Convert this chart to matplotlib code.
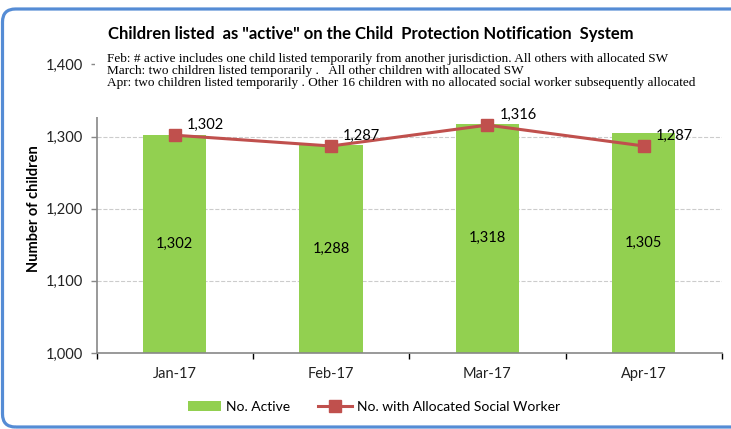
import matplotlib.pyplot as plt
import numpy as np
from matplotlib.patches import FancyBboxPatch, Patch
from matplotlib.lines import Line2D
from matplotlib.transforms import IdentityTransform

months = ["Jan-17", "Feb-17", "Mar-17", "Apr-17"]
active = [1302, 1288, 1318, 1305]
allocated = [1302, 1287, 1316, 1287]
notes = [
    "Feb: # active includes one child listed temporarily from another jurisdiction. All others with allocated SW",
    "March: two children listed temporarily .   All other children with allocated SW",
    "Apr: two children listed temporarily . Other 16 children with no allocated social worker subsequently allocated",
]

GREEN = "#92D050"
RED = "#C0504D"

plt.rcParams["font.family"] = ["Lato", "DejaVu Sans"]
W, H = 731, 429
fig = plt.figure(figsize=(W / 100, H / 100), dpi=100)

# outer rounded frame, in pixels
frame = FancyBboxPatch((2.5, 2), 800, 418, boxstyle="round,pad=0,rounding_size=13",
                       transform=IdentityTransform(), facecolor="none", edgecolor="#558CD5", lw=2.3)
fig.patches.append(frame)

ax = fig.add_axes([96.5 / W, 1 - 353 / H, 625.5 / W, (353 - 64.5) / H])
x = np.arange(len(months))
ax.bar(x, [v - 1000 for v in active], bottom=1000, width=0.405, color=GREEN, zorder=2)
ax.plot(x, allocated, color=RED, lw=2.2, marker="s", markersize=8.6, zorder=3)

for i, v in enumerate(active):
    ax.text(x[i], (1000 + v) / 2, f"{v:,}", ha="center", va="center", fontsize=10.5, zorder=5)
for i, v in enumerate(allocated):
    ax.annotate(f"{v:,}", (x[i], v), xytext=(8.6, 7.2), textcoords="offset points", ha="left", va="center",
                fontsize=10.5, zorder=5)

ax.set_xlim(-0.5, 3.5)
ax.set_ylim(1000, 1400)
ax.set_yticks(range(1000, 1401, 100))
ax.yaxis.set_major_formatter(plt.FuncFormatter(lambda v, p: f"{int(v):,}"))
ax.set_xticks(x)
ax.set_xticklabels(months)
ax.set_xticks(np.arange(-0.5, 3.6, 1), minor=True)
ax.tick_params(labelsize=10.5, colors="#222222", color="#888888")
ax.tick_params(axis="y", length=4, width=1, pad=6)
ax.tick_params(axis="x", which="major", length=0, pad=10)
ax.tick_params(axis="x", which="minor", length=4, width=1)
ax.grid(axis="y", color="#CCCCCC", linestyle="--", lw=0.8, zorder=0)
for side in ["top", "right"]:
    ax.spines[side].set_visible(False)
for side in ["left", "bottom"]:
    ax.spines[side].set_color("#888888")
    ax.spines[side].set_linewidth(1.2)
ax.set_ylabel("Number of children", fontsize=10.5, fontweight="bold", labelpad=3)

# white note box covering the top of the plot area
ax.add_patch(plt.Rectangle((95 / W, 1 - 117 / H), 630 / W, 72 / H, transform=fig.transFigure,
                           facecolor="white", edgecolor="none", zorder=3.5, clip_on=False))
for i, line in enumerate(notes):
    fig.text(107 / W, 1 - (59 + 12 * i) / H, line, fontsize=9.5, family="Liberation Serif",
             ha="left", va="center", zorder=6)

fig.text(371 / W, 1 - 39.5 / H, 'Children listed  as "active" on the Child  Protection Notification  System',
         fontsize=12, fontweight="bold", ha="center", va="baseline")

handles = [Patch(facecolor=GREEN, edgecolor="none"),
           Line2D([], [], color=RED, lw=2.2, marker="s", markersize=8.6)]
fig.legend(handles, ["No. Active", "No. with Allocated Social Worker"], loc="center",
           bbox_to_anchor=(374 / W, 1 - 407 / H), ncol=2, frameon=False, fontsize=10,
           handlelength=2.4, handletextpad=0.4, columnspacing=2.0)

fig.savefig("out.png", dpi=100)
